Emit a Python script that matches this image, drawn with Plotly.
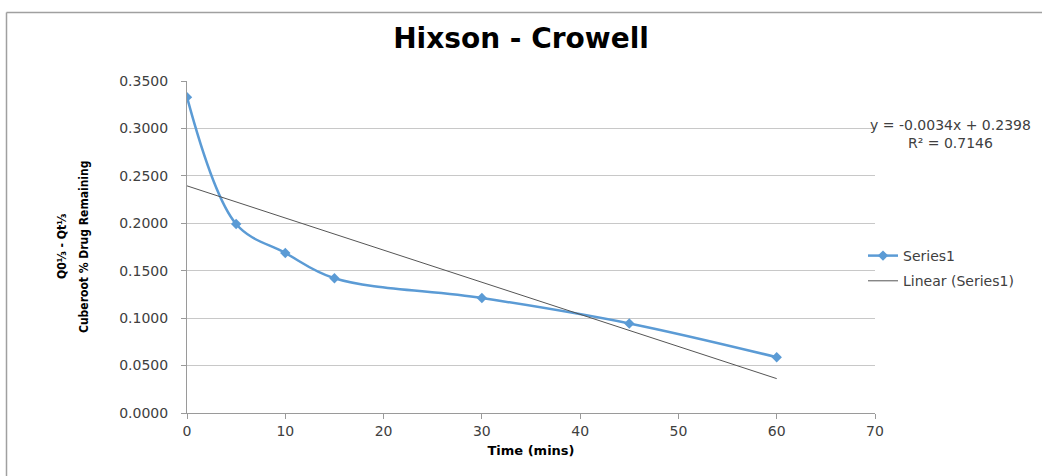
import numpy as np
import plotly.graph_objects as go

time_mins = [0, 5, 10, 15, 30, 45, 60]
cuberoot_diff = [0.3330, 0.1992, 0.1687, 0.1420, 0.1212, 0.0944, 0.0588]
y_ticks = [0, 0.05, 0.10, 0.15, 0.20, 0.25, 0.30, 0.35]
x_ticks = [0, 10, 20, 30, 40, 50, 60, 70]
equation_text = "y = -0.0034x + 0.2398<br>R² = 0.7146"
y_title_lines = ["Q0⅓ - Qt⅓", "Cuberoot % Drug Remaining"]

slope, intercept = np.polyfit(time_mins, cuberoot_diff, 1)
trend_x = [min(time_mins), max(time_mins)]
trend_y = [slope * v + intercept for v in trend_x]

W, H = 1042, 476
L, R, T, B = 187, 167, 81, 63
pw, ph = W - L - R, H - T - B

def px_x(p):
    return (p - L) / pw

def px_y(p):
    return 1 - (p - T) / ph

fig = go.Figure()
fig.add_trace(go.Scatter(
    x=time_mins, y=cuberoot_diff, name="Series1", legendgroup="a",
    mode="lines+markers", line=dict(color="#5B9BD5", width=2.5, shape="spline", smoothing=1.0),
    marker=dict(symbol="diamond", size=8, color="#5B9BD5"),
))
fig.add_trace(go.Scatter(
    x=trend_x, y=trend_y, name="Linear (Series1)", mode="lines", legendgroup="b",
    line=dict(color="#555555", width=1),
))

FONT = "DejaVu Sans, Verdana, sans-serif"
tick_font = dict(family=FONT, size=14, color="#404040")

fig.update_layout(
    width=W, height=H,
    margin=dict(l=L, r=R, t=T, b=B, autoexpand=False),
    paper_bgcolor="white", plot_bgcolor="white",
    title=dict(text="<b>Hixson - Crowell</b>", x=px_x(531), xanchor="center",
               y=1 - 38 / H, yanchor="middle",
               font=dict(family=FONT, size=28, color="#000000")),
    xaxis=dict(range=[0, 70], tickvals=x_ticks, ticks="outside", ticklen=5, tickcolor="#9a9a9a",
               showline=True, linecolor="#9a9a9a", linewidth=1, showgrid=False, zeroline=False,
               tickfont=tick_font,
               title=dict(text="<b>Time (mins)</b>", standoff=8,
                          font=dict(family=FONT, size=13, color="#000000"))),
    yaxis=dict(range=[0, 0.35], tickvals=y_ticks, tickformat=".4f", ticks="outside", ticklen=5,
               tickcolor="#9a9a9a", showline=True, linecolor="#9a9a9a", linewidth=1,
               showgrid=True, gridcolor="#c8c8c8", gridwidth=1, zeroline=False,
               tickfont=tick_font, ticklabelstandoff=10),
    legend=dict(x=px_x(863), y=px_y(240), xanchor="left", yanchor="top",
                font=dict(family=FONT, size=14, color="#404040"),
                bgcolor="rgba(0,0,0,0)", tracegroupgap=4),
    showlegend=True,
)

for txt, xp in zip(y_title_lines, [62, 84]):
    fig.add_annotation(
        text=f"<b>{txt}</b>", xref="paper", yref="paper",
        x=px_x(xp), y=px_y(247), xanchor="center", yanchor="middle", textangle=-90, showarrow=False,
        font=dict(family="Liberation Sans Narrow, DejaVu Sans Condensed, sans-serif", size=12,
                  color="#000000"),
    )
fig.add_annotation(
    text=equation_text, xref="paper", yref="paper", x=px_x(950), y=px_y(134),
    xanchor="center", yanchor="middle", showarrow=False, align="center",
    font=dict(family=FONT, size=14, color="#404040"),
)

# chart-area border (top and left edges visible in the frame)
fig.add_shape(type="line", xref="paper", yref="paper", x0=px_x(6.5), x1=px_x(1100),
              y0=px_y(12.5), y1=px_y(12.5), line=dict(color="#a0a0a0", width=1.5))
fig.add_shape(type="line", xref="paper", yref="paper", x0=px_x(6.5), x1=px_x(6.5),
              y0=px_y(12.5), y1=px_y(520), line=dict(color="#a0a0a0", width=1.5))

fig.write_html("out.html")
